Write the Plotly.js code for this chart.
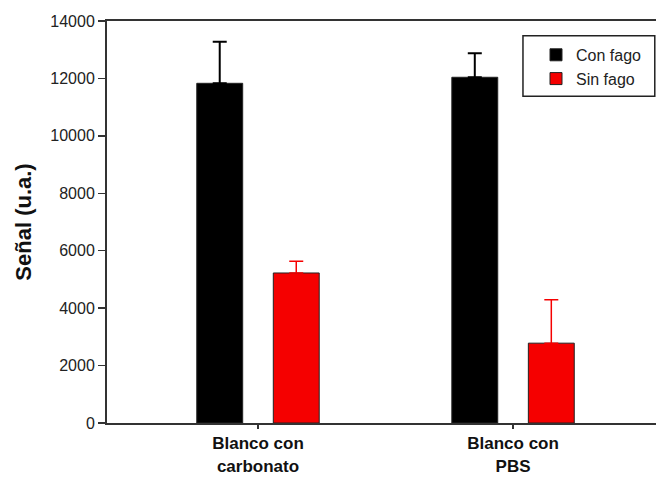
<!DOCTYPE html>
<html>
<head>
<meta charset="utf-8">
<script src="https://cdn.plot.ly/plotly-3.0.1.min.js"></script>
<style>
  html, body { margin: 0; padding: 0; overflow: hidden; background: #fff; }
  #chart { width: 672px; height: 477px; }
</style>
</head>
<body>
<div id="chart"></div>
<script>
const categories = ["Blanco con<br>carbonato", "Blanco con<br>PBS"];
const conFago = [11830, 12040];
const conFagoErr = [1450, 840];
const sinFago = [5225, 2780];
const sinFagoErr = [410, 1510];
const seriesNames = ["Con fago", "Sin fago"];
const yTicks = [0, 2000, 4000, 6000, 8000, 10000, 12000, 14000];

const traces = [
  {
    type: "bar",
    name: seriesNames[0],
    x: categories,
    y: conFago,
    marker: { color: "#000000", line: { color: "#222222", width: 1 } },
    error_y: {
      type: "data", symmetric: false,
      array: conFagoErr, arrayminus: [0, 0],
      color: "#000000", thickness: 2, width: 7
    }
  },
  {
    type: "bar",
    name: seriesNames[1],
    x: categories,
    y: sinFago,
    marker: { color: "#f50000", line: { color: "#222222", width: 1 } },
    error_y: {
      type: "data", symmetric: false,
      array: sinFagoErr, arrayminus: [0, 0],
      color: "#f50000", thickness: 1.5, width: 7
    }
  }
];

const layout = {
  width: 672,
  height: 477,
  margin: { l: 107, r: 10, t: 21, b: 54 },
  paper_bgcolor: "#ffffff",
  plot_bgcolor: "#ffffff",
  barmode: "group",
  bargap: 0.4,
  bargroupgap: 0.4,
  font: { family: "Liberation Sans, Arial, sans-serif", color: "#222222", size: 16 },
  showlegend: true,
  legend: {
    x: 0.773, y: 0.958, xanchor: "left", yanchor: "top",
    borderwidth: 0, bgcolor: "rgba(0,0,0,0)",
    font: { size: 16, color: "#222222" },
    tracegroupgap: 0
  },
  shapes: [
    {
      type: "rect", xref: "paper", yref: "paper",
      x0: 0.7495, x1: 0.987, y0: 0.813, y1: 0.963,
      line: { color: "#222222", width: 1.5 },
      fillcolor: "#ffffff", layer: "above"
    }
  ],
  xaxis: {
    type: "category",
    range: [-0.592, 1.584],
    showline: true, linecolor: "#333333", linewidth: 2, mirror: true,
    ticks: "outside", ticklen: 4, tickwidth: 1.5, tickcolor: "#333333",
    showgrid: false, zeroline: false,
    tickfont: { size: 17, color: "#111111", family: "Liberation Sans, Arial, sans-serif", weight: "bold" }
  },
  yaxis: {
    range: [0, 14000],
    tickvals: yTicks,
    ticktext: yTicks.map(String),
    showline: true, linecolor: "#333333", linewidth: 2, mirror: true,
    ticks: "outside", ticklen: 7, tickwidth: 1.5, tickcolor: "#333333",
    showgrid: false, zeroline: false,
    tickfont: { size: 16, color: "#222222" },
    title: {
      text: "Señal (u.a.)",
      standoff: 13,
      font: { size: 22, color: "#111111", family: "Liberation Sans, Arial, sans-serif", weight: "bold" }
    }
  }
};

Plotly.newPlot("chart", traces, layout, { displayModeBar: false, staticPlot: true });
</script>
</body>
</html>
